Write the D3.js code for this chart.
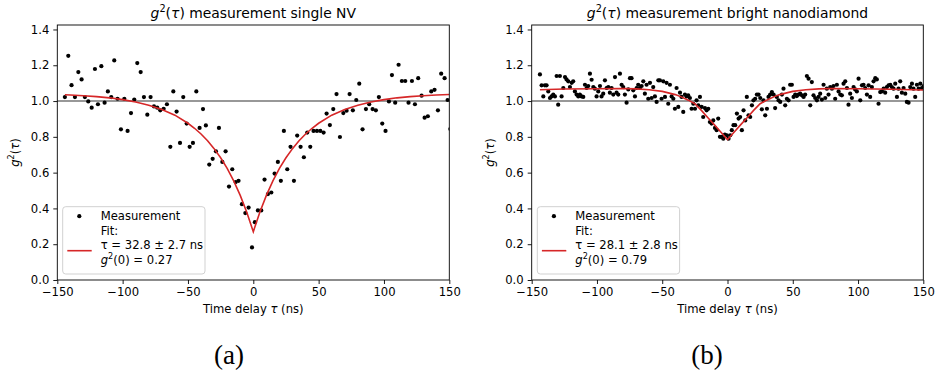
<!DOCTYPE html>
<html><head><meta charset="utf-8">
<script src="https://cdn.jsdelivr.net/npm/d3@7"></script>
<style>body{margin:0;background:#fff} svg{display:block} text{font-family:"DejaVu Sans",sans-serif;fill:#000}</style>
</head><body>
<svg id="chart" width="936" height="374"></svg>
<script>
const xTicks=[-150,-100,-50,0,50,100,150];
const yTicks=[0,0.2,0.4,0.6,0.8,1.0,1.2,1.4];

const nvTau=[-144.2,-141.6,-139.1,-136.5,-133.9,-131.4,-128.9,-126.3,-123.7,-121.2,-118.9,-116.3,-113.8,-111.3,-108.7,-106.4,-103.9,-101.3,-98.7,-96.2,-93.6,-91.1,-88.8,-86.2,-83.7,-81.1,-78.6,-76.0,-73.5,-71.2,-68.6,-66.1,-63.5,-61.2,-58.7,-56.1,-53.6,-51.0,-48.7,-46.2,-43.6,-41.1,-38.5,-36.3,-33.7,-31.1,-28.6,-26.3,-23.7,-21.2,-18.6,-16.1,-13.5,-11.3,-8.7,-6.1,-3.6,-1.0,1.2,3.5,6.1,8.6,11.2,13.8,16.3,18.8,21.1,23.4,26.0,28.5,31.1,33.6,36.2,38.7,41.3,43.6,46.1,48.7,51.3,53.8,56.1,58.6,61.2,63.7,66.3,68.9,71.4,73.7,76.2,78.8,81.1,83.6,86.2,88.7,91.3,93.8,96.1,98.7,101.2,103.8,106.1,108.6,111.2,113.7,116.3,118.8,121.4,123.7,126.2,128.8,131.1,133.6,136.2,138.7,141.3,143.8,146.4,148.7,150.8];
const nvG=[1.022,1.253,1.089,1.022,1.162,1.121,1.022,0.998,0.963,1.179,0.982,1.195,0.991,1.054,1.022,1.227,1.013,0.842,1.013,0.833,0.933,1.008,1.212,1.162,1.022,0.924,1.022,0.970,0.963,0.948,0.957,0.982,0.744,1.054,0.941,0.766,1.022,0.874,0.744,0.766,1.054,0.850,0.955,0.864,0.645,0.677,0.719,0.850,0.660,0.719,0.522,0.619,0.547,0.554,0.424,0.374,0.405,0.182,0.323,0.389,0.389,0.561,0.480,0.489,0.595,0.660,0.554,0.833,0.619,0.744,0.554,0.807,0.744,0.686,0.824,0.744,0.833,0.833,0.833,0.824,0.930,0.866,0.955,1.039,0.799,0.933,0.946,1.039,0.948,1.006,1.097,0.842,0.955,0.982,0.955,0.948,1.022,0.874,0.833,0.998,1.145,0.991,1.203,1.112,1.112,0.991,1.112,0.982,1.128,1.030,0.907,0.915,1.054,1.063,0.948,1.153,1.128,1.006,0.844];
const nvFitTau=[-144.2,-140,-130,-120,-110,-100,-90,-80,-70,-60,-50,-45,-40,-35,-30,-25,-20,-15,-10,-5,0,5,10,15,20,25,30,35,40,45,50,60,70,80,90,100,110,120,130,140,150];
const nvFitG=[1.035,1.034,1.030,1.025,1.018,1.008,0.995,0.977,0.953,0.921,0.876,0.848,0.816,0.778,0.734,0.683,0.624,0.554,0.473,0.379,0.270,0.379,0.473,0.554,0.624,0.683,0.734,0.778,0.816,0.848,0.876,0.921,0.953,0.977,0.995,1.008,1.018,1.025,1.030,1.034,1.037];

const ndTau=[-143.7,-142.4,-141.1,-139.9,-138.6,-137.3,-136.0,-134.8,-133.5,-132.2,-130.9,-129.7,-128.4,-127.1,-125.8,-124.5,-123.3,-122.0,-120.7,-119.4,-118.2,-116.9,-115.6,-114.3,-113.1,-111.8,-110.5,-109.2,-107.9,-106.7,-105.4,-104.1,-102.8,-101.6,-100.3,-99.0,-97.7,-96.5,-95.2,-93.9,-92.6,-91.3,-90.1,-88.8,-87.5,-86.2,-85.0,-83.7,-82.4,-81.1,-79.9,-78.6,-77.3,-76.0,-74.7,-73.5,-72.2,-70.9,-69.6,-68.4,-67.1,-65.8,-64.5,-63.3,-62.0,-60.7,-59.4,-58.1,-56.9,-55.6,-54.3,-53.0,-51.8,-50.5,-49.2,-47.9,-46.7,-45.4,-44.1,-42.8,-41.5,-40.3,-39.0,-37.7,-36.4,-35.2,-33.9,-32.6,-31.3,-30.1,-28.8,-27.5,-26.2,-24.9,-23.7,-22.4,-21.1,-19.8,-18.6,-17.3,-16.0,-14.7,-13.5,-12.2,-10.9,-9.6,-8.3,-7.1,-5.8,-4.5,-3.2,-2.0,-0.5,0.8,2.1,3.3,4.6,5.9,7.2,8.5,9.7,11.0,12.3,13.6,14.8,16.1,17.4,18.7,19.9,21.2,22.5,23.8,25.1,26.3,27.6,28.9,30.2,31.4,32.7,34.0,35.3,36.5,37.8,39.1,40.4,41.7,42.9,44.2,45.5,46.8,48.0,49.3,50.6,51.9,53.1,54.4,55.7,57.0,58.3,59.5,60.8,62.1,63.4,64.6,65.9,67.2,68.5,69.8,71.0,72.3,73.6,74.9,76.1,77.4,78.7,80.0,81.2,82.5,83.8,85.1,86.4,87.6,88.9,90.2,91.5,92.7,94.0,95.3,96.6,97.8,99.1,100.4,101.7,103.0,104.2,105.5,106.8,108.1,109.3,110.6,111.9,113.2,114.4,115.7,117.0,118.3,119.6,120.8,122.1,123.4,124.7,125.9,127.2,128.5,129.8,131.0,132.3,133.6,134.9,136.2,137.4,138.7,140.0,141.3,142.5,143.8,145.1,146.4,147.7,148.9,150.2];
const ndG=[1.149,1.088,1.026,1.088,1.088,1.054,1.017,1.026,1.036,1.026,1.140,0.980,1.140,1.026,1.073,1.134,1.121,1.110,1.078,1.102,1.110,1.054,1.036,1.026,1.036,1.026,1.023,1.091,1.073,1.084,1.153,1.119,1.078,1.069,1.026,1.054,1.084,1.026,1.041,1.116,1.073,1.078,1.047,1.073,1.036,1.134,1.047,1.036,1.153,1.091,1.078,1.036,0.991,1.065,1.128,1.128,1.060,1.026,1.073,1.091,1.073,1.084,1.110,1.041,1.091,1.013,1.102,1.017,1.078,1.026,0.995,1.116,1.116,1.013,1.110,1.023,1.102,0.985,1.091,1.026,1.013,0.957,1.073,0.967,1.047,1.023,0.939,1.036,1.026,1.032,1.017,0.957,0.985,0.957,1.004,0.976,1.023,0.967,0.911,0.961,0.948,0.957,0.883,0.874,0.892,0.850,0.837,0.902,0.800,0.800,0.790,0.812,0.809,0.790,0.809,0.837,0.865,0.865,0.930,0.902,0.911,0.837,0.948,0.892,1.023,0.920,0.911,0.976,1.004,1.013,1.036,1.036,1.017,0.954,1.004,0.920,0.957,1.023,1.036,1.050,1.036,0.961,1.023,1.004,0.995,1.036,1.069,0.976,1.013,1.004,1.091,1.091,1.023,1.036,1.028,1.036,1.041,1.032,1.023,1.036,1.140,1.125,0.976,1.106,1.032,1.017,1.004,1.023,1.041,1.008,1.091,1.017,1.069,1.036,1.078,1.069,1.084,1.013,1.091,1.054,1.036,1.032,1.097,1.110,1.073,0.980,1.041,1.017,1.078,1.065,1.054,1.125,1.004,1.088,1.091,1.073,1.036,1.088,1.023,1.078,1.110,1.128,1.121,0.985,1.050,1.054,1.069,1.047,1.078,1.088,1.091,1.078,1.069,1.097,1.023,1.069,1.110,1.047,1.073,1.041,0.995,0.991,1.078,1.097,1.069,1.023,1.091,1.069,1.097,1.073,1.084];
const ndFitTau=[-143.7,-125,-100,-80,-70,-60,-50,-40,-35,-30,-25,-20,-15,-10,-5,0,5,10,15,20,25,30,35,40,50,60,70,80,100,125,150];
const ndFitG=[1.063,1.067,1.069,1.070,1.068,1.063,1.054,1.036,1.022,1.005,0.985,0.948,0.907,0.867,0.826,0.785,0.826,0.867,0.907,0.948,0.985,1.005,1.022,1.036,1.054,1.063,1.068,1.070,1.069,1.066,1.062];

const titles=["measurement single NV","measurement bright nanodiamond"];
const fitTaus=["32.8 ± 2.7","28.1 ± 2.8"];
const fitG0=["0.27","0.79"];
const captions=["(a)","(b)"];

const svg=d3.select("#chart");
const FS=11.6;

function gExpr(t,size,arg,argItalic){
  t.append("tspan").attr("font-style","italic").text("g");
  t.append("tspan").attr("font-size",size*0.7).attr("dy",-size*0.42).text("2");
  t.append("tspan").attr("dy",size*0.42).text("(");
  const a=t.append("tspan").text(arg);
  if(argItalic) a.attr("font-style","italic");
  t.append("tspan").text(")");
}

const panels=[
  {tau:nvTau,g:nvG,fitTau:nvFitTau,fitG:nvFitG,left:57.3,right:449.3,legX:62.7,cap:229},
  {tau:ndTau,g:ndG,fitTau:ndFitTau,fitG:ndFitG,left:531.7,right:923.3,legX:537.3,cap:707}
];
const axTop=25,axBottom=280;

panels.forEach((p,i)=>{
  const x=d3.scaleLinear().domain([-150,150]).range([p.left,p.right]);
  const y=d3.scaleLinear().domain([0,1.425]).range([axBottom,axTop]);
  const g=svg.append("g");
  const cid="clip"+i;
  svg.append("defs").append("clipPath").attr("id",cid).append("rect")
    .attr("x",p.left).attr("y",axTop).attr("width",p.right-p.left).attr("height",axBottom-axTop);

  const xa=g.append("g").attr("transform",`translate(0,${axBottom})`)
    .call(d3.axisBottom(x).tickValues(xTicks).tickSize(4).tickPadding(4)
      .tickFormat(d=>d<0?"\u2212"+Math.abs(d):String(d)));
  const ya=g.append("g").attr("transform",`translate(${p.left},0)`)
    .call(d3.axisLeft(y).tickValues(yTicks).tickSize(4).tickPadding(4).tickFormat(d3.format(".1f")));
  [xa,ya].forEach(a=>{
    a.select(".domain").remove();
    a.selectAll("line").attr("stroke","#000").attr("stroke-width",0.9);
    a.selectAll("text").attr("font-size",FS).attr("font-family","DejaVu Sans").attr("fill","#000");
  });

  g.append("line").attr("x1",p.left).attr("x2",p.right).attr("y1",y(1)).attr("y2",y(1))
    .attr("stroke","#333").attr("stroke-width",1.1);

  const pts=p.tau.map((t,k)=>[t,p.g[k]]);
  g.append("g").attr("clip-path",`url(#${cid})`).selectAll("circle").data(pts).join("circle")
    .attr("cx",d=>x(d[0])).attr("cy",d=>y(d[1])).attr("r",2.1).attr("fill","#000");

  const fit=p.fitTau.map((t,k)=>[t,p.fitG[k]]);
  g.append("path").attr("clip-path",`url(#${cid})`).datum(fit)
    .attr("d",d3.line().x(d=>x(d[0])).y(d=>y(d[1])))
    .attr("fill","none").attr("stroke","#d62728").attr("stroke-width",1.6);

  g.append("rect").attr("x",p.left).attr("y",axTop).attr("width",p.right-p.left).attr("height",axBottom-axTop)
    .attr("fill","none").attr("stroke","#000").attr("stroke-width",0.9);

  const cx=(p.left+p.right)/2;
  const tt=g.append("text").attr("x",cx).attr("y",18).attr("text-anchor","middle").attr("font-size",13.9);
  gExpr(tt,13.9,"τ",true);
  tt.append("tspan").text(" "+titles[i]);

  const xl=g.append("text").attr("x",cx).attr("y",313).attr("text-anchor","middle").attr("font-size",FS);
  xl.append("tspan").text("Time delay ");
  xl.append("tspan").attr("font-style","italic").text("τ");
  xl.append("tspan").text(" (ns)");

  const yl=g.append("text").attr("transform",`translate(${p.left-38},${(axTop+axBottom)/2}) rotate(-90)`)
    .attr("text-anchor","middle").attr("font-size",FS);
  gExpr(yl,FS,"τ",true);

  const lx=p.legX, ly=206.7;
  g.append("rect").attr("x",lx).attr("y",ly).attr("width",142.3).attr("height",67.3)
    .attr("rx",3).attr("fill","#fff").attr("fill-opacity",0.8).attr("stroke","#ccc").attr("stroke-width",0.9);
  g.append("circle").attr("cx",lx+16.6).attr("cy",ly+9.5).attr("r",2.1).attr("fill","#000");
  g.append("line").attr("x1",lx+4.6).attr("x2",lx+29).attr("y1",ly+44).attr("y2",ly+44)
    .attr("stroke","#d62728").attr("stroke-width",1.6);
  const tx=lx+38;
  g.append("text").attr("x",tx).attr("y",ly+13.6).attr("font-size",FS).text("Measurement");
  g.append("text").attr("x",tx).attr("y",ly+28.5).attr("font-size",FS).text("Fit:");
  const l2=g.append("text").attr("x",tx).attr("y",ly+42).attr("font-size",FS);
  l2.append("tspan").text("τ = "+fitTaus[i]+" ns");
  const l3=g.append("text").attr("x",tx).attr("y",ly+57.5).attr("font-size",FS);
  gExpr(l3,FS,"0",false);
  l3.append("tspan").text(" = "+fitG0[i]);

  g.append("text").attr("x",p.cap).attr("y",364).attr("text-anchor","middle")
    .style("font-family","'Liberation Serif', serif").attr("font-size",27).text(captions[i]);
});
</script>
</body></html>
